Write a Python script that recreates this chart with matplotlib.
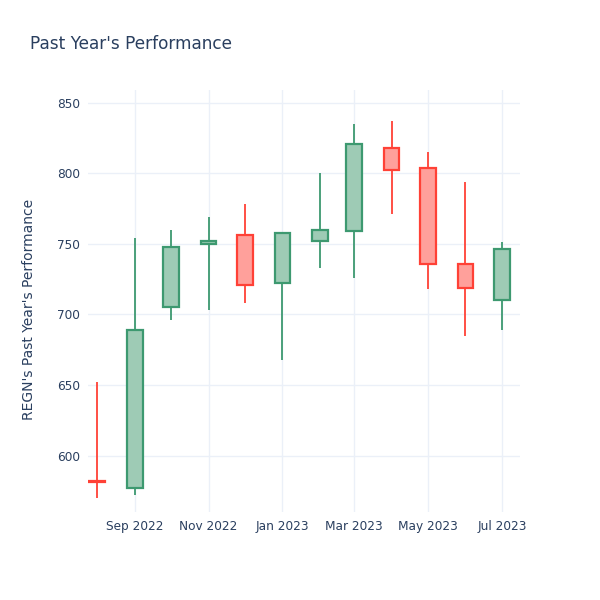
import matplotlib
matplotlib.use("Agg")
import matplotlib.pyplot as plt
import matplotlib.dates as mdates
import numpy as np
import pandas as pd

months = ["2022-08-01", "2022-09-01", "2022-10-01", "2022-11-01", "2022-12-01", "2023-01-01",
          "2023-02-01", "2023-03-01", "2023-04-01", "2023-05-01", "2023-06-01", "2023-07-01"]
open_ = [582, 577, 705, 750, 756, 722, 752, 759, 818, 804, 736, 710]
high = [652, 754, 760, 769, 778, 758, 800, 835, 837, 815, 794, 751]
low = [570, 572, 696, 703, 708, 668, 733, 726, 771, 718, 685, 689]
close = [581, 689, 748, 752, 721, 758, 760, 821, 802, 736, 719, 746]

tick_dates = ["2022-09-01", "2022-11-01", "2023-01-01", "2023-03-01", "2023-05-01", "2023-07-01"]
tick_labels = ["Sep 2022", "Nov 2022", "Jan 2023", "Mar 2023", "May 2023", "Jul 2023"]
y_ticks = [600, 650, 700, 750, 800, 850]

text_color = "#2a3f5f"
grid_color = "#ebf0f8"
up_line, up_fill = "#3d9970", "#9ecbb5"
down_line, down_fill = "#ff4136", "#ffa09b"

dates = mdates.date2num(pd.to_datetime(months).to_pydatetime())

fig = plt.figure(figsize=(6, 6), dpi=100)
ax = fig.add_axes([88 / 600, 88 / 600, 432 / 600, 422 / 600])

width = 13
for x, o, h, l, c in zip(dates, open_, high, low, close):
    up = c >= o
    line = up_line if up else down_line
    fill = up_fill if up else down_fill
    top, bot = max(o, c), min(o, c)
    ax.vlines(x, top, h, color=line, linewidth=1.3, zorder=2)
    ax.vlines(x, l, bot, color=line, linewidth=1.3, zorder=2)
    ax.bar(x, max(top - bot, 0.01), bottom=bot, width=width, color=fill,
           edgecolor=line, linewidth=1.6, zorder=3)

ax.set_xlim(dates[0] - 7.5, dates[-1] + 15)
ax.set_ylim(560, 859)
ax.set_xticks(mdates.date2num(pd.to_datetime(tick_dates).to_pydatetime()))
ax.set_xticklabels(tick_labels)
ax.set_yticks(y_ticks)
ax.tick_params(length=0, labelsize=8.7, colors=text_color, pad=6)
ax.grid(True, color=grid_color, linewidth=1)
ax.set_axisbelow(True)
for s in ax.spines.values():
    s.set_visible(False)

ax.set_ylabel("REGN's Past Year's Performance", fontsize=10, color=text_color)
ax.yaxis.set_label_coords(-0.12, 0.479)
fig.text(30 / 600, 1 - 44 / 600, "Past Year's Performance", fontsize=12.2, color=text_color,
         va="center", ha="left")

fig.savefig("out.png", dpi=100)
